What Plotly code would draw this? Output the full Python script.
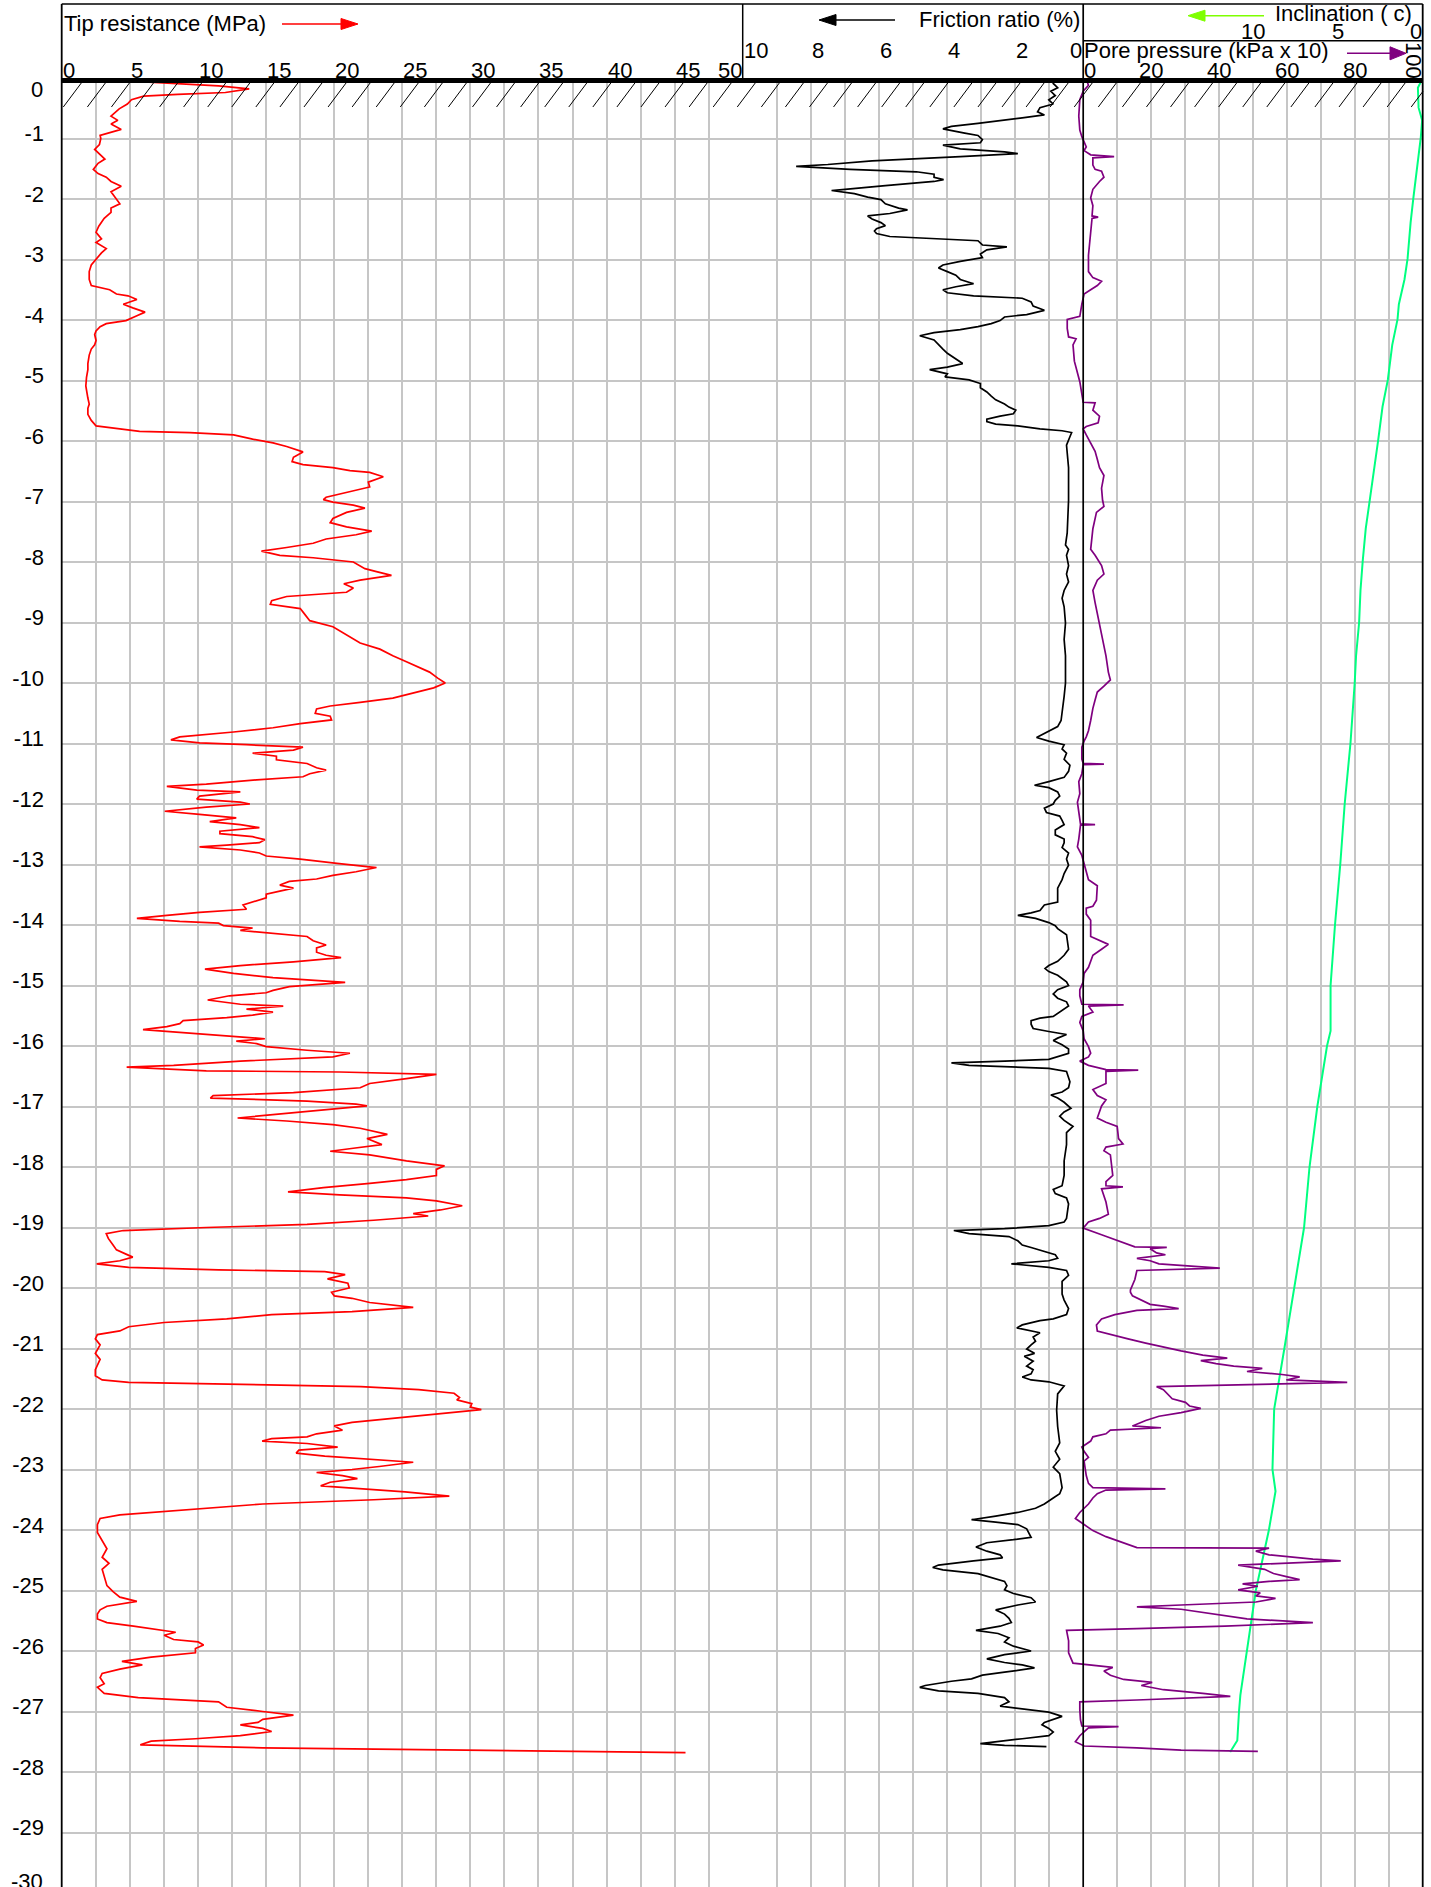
import plotly.graph_objects as go

# ---------------- data (depth in m below ground) ----------------
tip_depth = [0.04,0.08,0.13,0.18,0.24,0.27,0.30,0.36,0.43,0.51,0.63,0.70,0.76,0.85,0.90,0.95,1.00,1.10,1.18,1.27,
 1.34,1.41,1.51,1.58,1.64,1.71,1.79,1.88,1.98,2.08,2.15,2.22,2.32,2.45,2.55,2.66,2.72,2.82,2.89,2.99,
 3.09,3.20,3.33,3.43,3.50,3.57,3.60,3.66,3.74,3.80,3.87,3.93,4.01,4.06,4.11,4.18,4.24,4.34,4.41,4.48,
 4.58,4.72,4.82,4.95,5.09,5.29,5.39,5.46,5.56,5.66,5.75,5.80,5.84,5.86,5.90,5.97,6.03,6.09,6.14,6.18,
 6.27,6.34,6.39,6.44,6.49,6.52,6.59,6.68,6.76,6.84,6.93,6.97,7.01,7.06,7.11,7.18,7.28,7.35,7.42,7.49,
 7.55,7.62,7.69,7.76,7.82,7.89,7.93,8.00,8.06,8.11,8.16,8.22,8.30,8.36,8.43,8.50,8.57,8.64,8.70,8.77,
 8.87,8.97,9.07,9.21,9.34,9.44,9.55,9.65,9.75,9.82,9.92,10.00,
 10.08,10.20,10.25,10.32,10.38,10.43,10.50,10.55,10.61,10.67,10.74,10.81,10.89,10.94,10.99,11.02,11.06,11.11,11.16,11.21,
 11.27,11.33,11.40,11.44,11.50,11.55,11.60,11.67,11.71,11.77,11.80,11.87,11.92,11.97,12.00,12.05,12.12,12.17,12.23,12.29,
 12.34,12.39,12.45,12.49,12.54,12.59,12.64,12.68,12.71,12.76,12.81,12.86,12.91,12.98,13.05,13.12,13.18,13.24,13.28,13.34,
 13.39,13.44,13.49,13.55,13.62,13.67,13.74,13.79,13.84,13.89,13.94,13.97,14.01,14.05,14.09,14.13,14.19,14.26,14.33,14.38,
 14.45,14.50,14.54,14.61,14.67,14.73,14.80,14.87,14.92,14.95,15.02,15.08,15.12,15.17,15.24,15.31,15.34,15.39,15.44,15.49,
 15.53,15.58,15.63,15.68,15.73,15.79,15.83,15.88,15.92,15.96,16.01,16.07,16.12,16.18,16.25,16.32,16.35,16.41,16.43,16.47,
 16.54,16.62,16.69,16.77,16.82,16.86,16.91,16.96,16.99,17.06,17.13,17.19,17.24,17.30,17.36,17.43,17.46,17.53,17.58,17.63,
 17.69,17.74,17.80,17.85,17.90,17.98,18.04,18.14,18.21,18.27,18.34,18.41,18.46,18.51,18.56,18.64,18.71,18.77,18.81,18.88,
 18.95,19.00,19.05,19.10,19.18,19.29,19.37,19.44,19.49,19.55,19.60,19.66,19.70,19.73,19.78,19.85,19.92,20.00,20.07,20.13,
 20.17,20.24,20.32,20.39,20.44,20.51,20.57,20.64,20.71,20.77,20.84,20.94,21.08,21.18,21.35,21.45,21.52,21.56,21.60,21.63,
 21.68,21.74,21.81,21.85,21.91,21.97,22.01,22.09,22.16,22.22,22.28,22.35,22.41,22.46,22.49,22.53,22.57,22.63,22.68,22.73,
 22.78,22.83,22.88,22.95,23.00,23.05,23.10,23.15,23.21,23.27,23.32,23.37,23.44,23.50,23.57,23.64,23.71,23.75,23.81,23.91,
 24.04,24.18,24.31,24.45,24.55,24.65,24.78,24.92,25.02,25.11,25.18,25.26,25.32,25.39,25.47,25.53,25.59,25.66,25.69,25.74,
 25.81,25.85,25.90,25.96,26.03,26.10,26.17,26.23,26.30,26.37,26.44,26.54,26.60,26.70,26.77,26.84,26.93,27.00,27.06,27.13,
 27.18,27.22,27.28,27.33,27.40,27.45,27.49,27.55,27.60,27.68]
tip_qc = [4.0,7.0,11.5,13.75,12.0,8.5,6.0,5.1,4.8,4.2,3.6,4.1,3.6,4.35,3.5,2.8,2.85,2.75,2.4,2.8,
 3.15,2.65,2.3,2.65,3.25,3.6,4.35,3.6,3.9,4.25,3.6,3.6,3.1,2.7,2.5,2.9,2.5,3.25,2.9,2.5,
 2.15,2.0,2.0,2.15,3.5,4.0,4.85,5.5,4.5,5.2,6.1,5.5,4.7,3.25,2.8,2.5,2.4,2.5,2.4,2.15,
 2.0,1.9,1.9,1.8,1.75,1.9,2.0,1.9,1.9,2.15,2.5,4.25,5.7,9.4,12.6,14.0,15.5,16.5,17.2,17.7,
 17.0,16.9,17.7,19.9,21.15,22.6,23.6,22.5,22.6,21.15,19.4,19.2,19.9,21.4,22.25,20.9,19.9,19.7,20.9,22.75,
 21.6,19.4,18.45,16.5,14.65,16.0,18.45,21.4,21.9,22.25,23.1,24.2,21.9,20.7,21.4,20.9,16.5,15.4,15.3,17.5,
 17.85,18.2,19.9,20.9,21.9,23.35,24.3,25.3,26.3,27.0,27.6,28.15,
 27.3,25.1,24.3,21.9,19.7,18.7,18.6,19.7,19.8,17.5,15.5,12.6,8.65,8.0,10.1,13.55,17.7,17.0,14.0,15.75,
 15.75,18.0,18.7,19.4,18.2,17.7,14.3,10.6,7.7,9.9,13.1,10.1,9.9,13.1,13.8,10.6,7.55,10.1,12.8,10.85,
 13.1,14.5,11.6,11.6,14.0,14.9,14.5,12.1,10.1,13.1,14.5,15.0,17.5,20.2,23.1,21.6,19.9,18.7,16.7,16.0,
 17.0,16.0,15.0,15.0,14.0,13.3,13.55,10.1,7.7,5.5,8.65,11.5,11.85,14.0,13.1,15.0,18.0,18.45,19.4,18.7,
 18.7,19.4,20.5,17.0,13.1,10.5,12.6,15.5,19.2,20.8,16.7,15.5,15.0,12.3,10.7,13.1,16.25,13.55,15.5,14.0,
 12.1,8.9,8.65,7.7,5.95,9.6,12.6,14.9,12.8,14.3,15.0,18.0,21.15,19.9,13.1,8.2,4.75,10.6,20.4,27.5,
 25.3,22.6,21.9,17.0,11.1,10.9,18.0,21.6,22.4,19.2,15.5,12.9,16.5,19.9,21.9,23.4,23.9,22.4,22.9,23.5,
 21.4,19.7,22.6,23.85,25.3,28.1,27.5,27.5,25.3,22.6,19.2,16.6,20.4,25.3,27.5,29.4,27.8,25.8,26.9,22.9,
 18.0,10.6,4.5,3.25,3.4,3.75,4.0,4.7,5.2,4.25,2.55,4.9,11.5,19.3,20.8,19.5,21.0,21.1,19.8,20.0,
 21.3,22.6,25.8,21.3,15.4,12.1,7.5,4.9,4.25,2.6,2.45,2.8,2.45,2.8,2.45,2.45,2.95,4.9,14.75,21.95,
 26.2,28.8,29.2,29.0,30.1,30.0,30.8,27.2,23.6,21.3,20.0,20.6,18.7,18.0,15.4,14.7,18.0,20.25,17.4,17.2,
 19.3,22.6,25.8,23.3,21.3,18.7,20.6,21.7,19.7,19.0,21.95,25.2,28.45,22.9,14.75,10.8,7.2,4.25,2.8,2.6,
 2.6,2.95,3.3,2.95,3.45,2.95,3.1,3.3,3.75,4.25,5.5,3.3,2.8,2.6,2.6,3.3,5.25,7.4,8.35,7.5,
 8.2,10.0,10.4,9.8,9.8,6.55,4.4,5.9,4.25,2.95,2.8,3.1,2.6,3.1,5.6,11.5,12.1,14.75,17.0,14.75,
 14.4,13.1,14.75,15.4,13.1,9.8,6.55,5.75,14.75,45.8]

fr_depth = [0.02,0.09,0.16,0.22,0.29,0.36,0.43,0.49,0.56,0.61,0.66,0.71,0.75,0.80,0.84,0.91,0.95,1.02,1.07,1.11,
 1.17,1.22,1.25,1.30,1.37,1.43,1.46,1.51,1.55,1.59,1.64,1.68,1.71,1.78,1.83,1.86,1.91,1.97,2.01,2.08,
 2.15,2.18,2.24,2.28,2.33,2.39,2.44,2.49,2.53,2.57,2.62,2.66,2.69,2.76,2.79,2.84,2.91,2.97,3.03,3.09,
 3.14,3.20,3.26,3.33,3.40,3.45,3.50,3.55,3.60,3.64,3.70,3.77,3.84,3.91,3.95,4.01,4.06,4.11,4.16,4.21,
 4.26,4.33,4.41,4.48,4.55,4.65,4.72,4.78,4.82,4.89,4.94,4.99,5.05,5.12,5.19,5.26,5.32,5.39,5.44,5.49,
 5.55,5.59,5.64,5.68,5.72,5.75,5.80,5.83,5.86,5.93,6.07,6.44,6.98,7.52,7.72,7.79,7.89,8.06,8.20,8.33,
 8.47,8.60,8.74,9.01,9.28,9.55,10.00,10.22,10.49,10.62,10.72,10.79,10.86,10.90,10.96,11.02,11.09,11.16,11.26,11.36,
 11.46,11.56,11.63,11.69,11.73,11.80,11.87,11.94,12.00,12.07,12.14,12.20,12.27,12.34,12.43,12.51,12.58,12.64,12.72,12.81,
 12.91,13.01,13.15,13.25,13.39,13.62,13.67,13.76,13.80,13.84,13.89,13.96,14.01,14.06,14.16,14.40,14.50,14.60,14.67,14.72,
 14.77,14.83,14.94,15.00,15.07,15.14,15.21,15.27,15.34,15.44,15.51,15.54,15.58,15.64,15.71,15.76,15.81,15.87,15.91,15.98,
 16.05,16.12,16.18,16.22,16.25,16.28,16.32,16.37,16.42,16.59,16.69,16.76,16.81,16.86,16.93,17.03,17.09,17.16,17.23,17.33,
 17.43,17.63,17.90,18.14,18.31,18.37,18.44,18.51,18.61,18.85,18.91,18.97,19.02,19.05,19.10,19.15,19.22,19.29,19.33,19.39,
 19.45,19.51,19.55,19.60,19.66,19.71,19.79,19.89,20.00,20.10,20.20,20.34,20.44,20.51,20.54,20.61,20.66,20.74,20.81,20.88,
 20.94,21.01,21.08,21.13,21.21,21.29,21.35,21.42,21.47,21.52,21.55,21.62,21.75,22.02,22.29,22.56,22.70,22.83,22.96,23.07,
 23.30,23.40,23.47,23.57,23.64,23.71,23.77,23.83,23.87,23.91,23.98,24.04,24.12,24.16,24.21,24.28,24.35,24.41,24.46,24.51,
 24.58,24.62,24.66,24.72,24.78,24.85,24.92,24.99,25.05,25.12,25.19,25.24,25.32,25.39,25.46,25.53,25.59,25.66,25.71,25.78,
 25.85,25.92,26.00,26.06,26.13,26.19,26.23,26.28,26.35,26.40,26.46,26.50,26.57,26.60,26.66,26.70,26.77,26.84,26.91,26.95,
 27.01,27.08,27.13,27.18,27.22,27.28,27.34,27.40,27.45,27.49,27.53,27.56,27.58]
fr_ratio = [0.82,0.88,0.75,0.95,0.82,1.01,0.88,1.27,1.34,1.14,1.79,2.44,3.09,3.87,4.12,3.48,3.09,2.96,3.02,4.12,
 3.61,2.31,1.92,3.61,6.2,7.5,8.43,6.85,4.9,4.38,4.38,4.1,4.38,5.81,6.85,7.39,6.72,6.33,5.94,5.81,
 5.42,5.16,5.68,6.33,6.2,5.94,5.81,6.07,6.13,6.07,5.68,4.25,3.09,2.96,2.24,2.83,3.02,2.96,3.61,4.12,
 4.25,3.99,3.74,3.61,3.22,3.74,4.12,3.99,3.22,1.79,1.53,1.47,1.14,1.66,2.31,2.44,2.70,3.09,3.61,4.38,
 4.80,4.38,4.25,4.12,3.99,3.74,3.54,3.99,4.51,3.99,4.06,3.35,3.02,3.02,2.83,2.70,2.57,2.31,2.18,1.98,
 2.05,2.44,2.83,2.83,2.57,1.92,1.27,0.62,0.34,0.39,0.49,0.43,0.43,0.47,0.52,0.43,0.49,0.43,0.49,0.43,
 0.56,0.62,0.56,0.52,0.56,0.52,0.52,0.56,0.62,0.65,0.75,1.01,1.27,1.37,1.01,0.56,0.62,0.49,0.56,0.39,
 0.43,0.56,1.01,1.43,1.01,0.75,0.69,0.82,0.88,1.14,1.08,0.69,0.62,0.56,0.82,0.82,0.56,0.56,0.62,0.43,
 0.49,0.43,0.56,0.62,0.75,0.75,1.14,1.27,1.53,1.92,1.40,1.01,0.82,0.75,0.49,0.43,0.56,0.75,1.01,1.12,
 1.01,0.75,0.49,0.43,0.75,0.88,0.75,0.49,0.43,0.69,0.88,1.27,1.53,1.53,1.47,1.01,0.49,0.75,0.88,0.62,
 0.43,0.43,0.75,1.01,2.31,3.87,3.35,1.01,0.49,0.39,0.43,0.62,0.95,0.75,0.56,0.36,0.56,0.69,0.56,0.30,
 0.49,0.49,0.56,0.56,0.62,0.88,0.82,0.49,0.43,0.49,0.56,1.01,2.31,3.80,3.35,2.18,1.92,1.79,1.53,1.14,
 0.82,0.75,1.01,2.11,1.01,0.49,0.43,0.62,0.62,0.62,0.56,0.43,0.49,0.88,1.27,1.79,1.95,1.27,1.47,1.40,
 1.53,1.66,1.43,1.73,1.47,1.66,1.47,1.53,1.79,1.53,1.01,0.56,0.75,0.78,0.75,0.69,0.82,0.69,0.88,0.69,
 0.62,0.69,0.88,1.14,1.40,1.92,2.57,3.28,2.57,1.92,1.66,1.60,1.53,2.05,2.83,3.15,2.83,2.44,2.37,3.22,
 4.25,4.42,4.12,3.09,2.70,2.31,2.24,2.31,2.05,1.53,1.40,1.92,2.57,2.31,2.18,2.11,2.44,3.15,2.50,2.18,
 2.31,2.05,1.53,2.31,2.83,2.31,1.79,1.43,2.31,2.96,3.28,3.87,4.64,4.80,4.25,3.09,2.31,2.18,2.44,1.79,
 1.01,0.62,0.88,1.14,1.21,1.01,0.88,1.01,1.79,2.44,3.02,2.31,1.08]

pp_depth = [0.02,0.12,0.22,0.36,0.63,0.86,0.97,1.07,1.14,1.20,1.27,1.30,1.32,1.44,1.51,1.54,1.64,1.71,1.84,1.98,
 2.11,2.28,2.30,2.32,2.52,2.93,3.20,3.30,3.36,3.43,3.50,3.57,3.74,3.94,3.99,4.14,4.28,4.31,4.41,4.68,
 5.02,5.22,5.36,5.37,5.49,5.59,5.70,5.76,5.80,5.90,6.03,6.17,6.30,6.44,6.57,6.78,6.98,7.08,7.18,7.45,
 7.79,7.89,8.06,8.20,8.30,8.47,8.67,9.01,9.28,9.55,9.82,9.95,10.05,10.15,10.28,10.42,10.62,10.79,10.89,10.96,
 11.06,11.26,11.33,11.34,11.35,11.50,11.63,11.83,11.97,12.24,12.33,12.34,12.35,12.58,12.71,12.85,12.98,13.12,13.25,13.35,
 13.59,13.69,13.72,13.82,13.92,14.19,14.32,14.40,14.50,14.70,14.80,14.94,15.07,15.17,15.31,15.32,15.34,15.44,15.51,15.61,
 15.75,15.88,16.01,16.12,16.18,16.25,16.32,16.39,16.40,16.42,16.62,16.72,16.82,16.89,16.99,17.19,17.26,17.33,17.53,17.62,
 17.67,17.73,17.80,18.14,18.24,18.31,18.33,18.36,18.58,18.78,18.85,18.91,19.01,19.12,19.22,19.29,19.32,19.33,19.35,19.42,
 19.45,19.51,19.55,19.60,19.67,19.71,19.86,20.03,20.07,20.13,20.20,20.27,20.30,20.34,20.37,20.44,20.51,20.61,20.71,20.77,
 20.84,20.91,20.98,21.04,21.11,21.16,21.20,21.25,21.29,21.33,21.38,21.43,21.47,21.52,21.56,21.60,21.63,21.68,21.75,21.83,
 21.89,21.95,21.99,22.06,22.12,22.19,22.28,22.31,22.35,22.41,22.46,22.53,22.63,22.70,22.80,22.86,23.10,23.23,23.30,23.32,
 23.34,23.40,23.47,23.57,23.71,23.81,23.91,24.01,24.11,24.21,24.29,24.30,24.35,24.41,24.48,24.51,24.55,24.58,24.65,24.72,
 24.77,24.82,24.85,24.89,24.93,24.99,25.04,25.09,25.13,25.19,25.24,25.27,25.31,25.36,25.42,25.47,25.53,25.59,25.63,25.66,
 25.83,26.03,26.20,26.27,26.33,26.40,26.47,26.52,26.57,26.64,26.70,26.75,26.81,26.84,26.97,27.14,27.24,27.25,27.27,27.40,
 27.50,27.57,27.60,27.64,27.66]
pp_value = [0.9,1.55,0.0,-1.0,-1.3,-1.0,-0.4,0.26,0.9,0.26,2.2,9.1,2.85,2.85,3.5,5.4,6.1,4.8,2.85,2.2,
 2.85,2.6,4.4,2.6,2.2,1.55,1.55,2.85,5.4,4.15,2.2,0.26,-0.4,-1.0,-4.7,-4.7,-4.3,-2.1,-3.0,-2.6,
 -1.0,-0.4,0.0,3.5,2.85,4.8,4.4,0.9,0.0,0.9,2.2,3.5,4.15,4.8,6.1,5.4,5.7,6.1,3.9,2.85,
 2.2,3.5,5.4,6.1,4.15,2.85,3.5,4.8,5.7,6.7,7.4,8.0,6.1,4.15,3.5,2.85,2.2,1.55,0.9,0.26,
 -0.4,-0.4,0.0,6.1,0.0,-0.4,-1.3,-1.0,-1.7,-1.0,-0.8,3.5,-0.8,-1.3,-1.7,-0.4,0.26,0.9,1.55,4.15,
 3.9,2.85,0.9,0.9,2.2,2.2,7.4,5.4,2.85,1.55,0.26,0.0,-1.0,-1.0,-0.4,11.9,1.55,2.85,-0.4,-1.0,
 0.0,0.26,1.55,2.2,1.55,-1.0,1.55,6.7,16.2,6.7,6.7,2.85,4.15,6.7,5.4,4.15,6.7,10.0,10.4,11.7,
 6.7,6.1,8.0,8.7,6.7,6.7,11.7,5.4,6.7,7.4,4.8,1.55,0.0,5.4,10.6,13.9,15.2,24.6,19.7,21.6,
 24.2,15.8,19.7,22.3,40.2,15.8,15.2,13.9,13.9,14.5,17.1,19.7,23.6,28.1,15.8,9.3,5.4,3.9,4.15,8.0,
 13.2,18.4,23.6,28.8,35.2,42.4,34.6,39.1,44.3,52.7,48.2,58.5,63.7,59.8,77.7,41.7,21.6,23.6,24.9,26.2,
 30.1,31.3,34.6,28.8,22.3,18.4,14.5,22.9,8.0,6.7,2.85,2.2,-0.4,0.26,1.55,0.26,0.9,1.55,2.85,24.2,
 6.7,4.15,2.85,1.55,-1.0,-2.3,0.26,2.85,6.7,11.9,15.8,54.7,50.8,54.7,67.6,75.8,58.5,45.6,53.4,56.0,
 59.8,63.7,54.7,46.9,51.4,45.6,52.1,50.8,56.6,50.8,28.8,15.8,28.8,35.2,41.7,48.2,67.6,41.7,15.8,-4.9,
 -4.3,-4.3,-3.0,8.7,6.1,8.0,11.9,20.3,17.1,23.6,35.2,43.3,15.8,-1.0,-1.0,-0.8,-0.4,10.4,1.55,-1.0,
 -2.3,0.26,15.8,28.8,51.4]

inc_depth = [0.02,0.16,0.49,0.70,0.98,1.37,1.71,1.99,2.39,2.79,2.99,3.33,3.74,3.99,4.41,4.99,5.43,5.99,6.43,6.99,
 7.45,7.99,8.47,9.00,9.55,10.00,11.00,12.00,13.00,14.00,15.00,15.75,16.00,17.00,18.00,19.00,20.00,21.00,22.00,23.00,
 23.36,24.00,25.00,26.00,26.73,27.00,27.48,27.67]
inc_value = [0.05,0.30,0.26,0.05,0.13,0.31,0.47,0.57,0.73,0.83,0.91,1.09,1.42,1.50,1.81,2.07,2.38,2.64,2.85,3.16,
 3.37,3.55,3.68,3.76,3.94,4.02,4.27,4.61,4.87,5.18,5.44,5.44,5.65,6.22,6.68,7.00,7.56,8.16,8.76,8.86,
 8.68,9.07,9.84,10.36,10.75,10.83,10.93,11.35]

depth_ticks = list(range(-1, -30, -1))
tip_ticks = [0, 5, 10, 15, 20, 25, 30, 35, 40, 45, 50]
fr_ticks = [10, 8, 6, 4, 2, 0]
pp_ticks = [0, 20, 40, 60, 80, 100]
inc_ticks = [10, 5, 0]

# ---------------- geometry (pixels) ----------------
W, H = 1431, 1887
ML, MR, MT, MB = 62, 8, 78, 0
PW = W - ML - MR
PH = H - MT - MB
PX_PER_M = 60.5
X_LEFT, X_TIP, X_FR, X_RIGHT = 61.7, 742.7, 1083.2, 1423.0


def px(x):
    return (x - ML) / PW


def py(y):
    return (H - MB - y) / PH


FONT = "Liberation Sans, Arial, sans-serif"
GRID = "#c6c6c6"
FS = 22
PP_MIN = -(X_FR - X_TIP) / (X_RIGHT - X_FR) * 100.0
Y_RANGE = [-PH / PX_PER_M, 0]

fig = go.Figure()
fig.add_trace(go.Scatter(x=tip_qc, y=[-d for d in tip_depth], xaxis="x", yaxis="y", mode="lines",
                         line=dict(color="#ff0000", width=1.7), name="Tip resistance", showlegend=False))
fig.add_trace(go.Scatter(x=fr_ratio, y=[-d for d in fr_depth], xaxis="x2", yaxis="y", mode="lines",
                         line=dict(color="#000000", width=1.7), name="Friction ratio", showlegend=False))
fig.add_trace(go.Scatter(x=inc_value, y=[-d for d in inc_depth], xaxis="x4", yaxis="y", mode="lines",
                         line=dict(color="#00ff80", width=2), name="Inclination", showlegend=False))
fig.add_trace(go.Scatter(x=pp_value, y=[-d for d in pp_depth], xaxis="x5", yaxis="y2", mode="lines",
                         line=dict(color="#800080", width=1.7), name="Pore pressure", showlegend=False))

xcommon = dict(showticklabels=False, ticks="", showgrid=True, gridcolor=GRID, gridwidth=1.5,
               zeroline=False, showline=False, tickmode="linear", anchor="y", side="top")
hidden = dict(showgrid=False, showticklabels=False, ticks="", zeroline=False, showline=False, side="top")
fig.update_layout(
    width=W, height=H,
    margin=dict(l=ML, r=MR, t=MT, b=MB, pad=0),
    paper_bgcolor="white", plot_bgcolor="rgba(0,0,0,0)",
    font=dict(family=FONT, size=FS, color="black"),
    xaxis=dict(domain=[0, px(X_TIP)], range=[0, 50], tick0=0, dtick=2.5, **xcommon),
    xaxis2=dict(domain=[px(X_TIP), px(X_FR)], range=[10, 0], tick0=0, dtick=1, **xcommon),
    xaxis3=dict(domain=[px(X_FR), 1], range=[0, 100], tick0=0, dtick=10, **xcommon),
    xaxis4=dict(overlaying="x3", range=[20, 0], anchor="y", **hidden),
    xaxis5=dict(domain=[px(X_TIP), 1], range=[PP_MIN, 100], anchor="y2", **hidden),
    yaxis=dict(range=Y_RANGE, tickmode="array", tickvals=depth_ticks,
               ticktext=[str(v) for v in depth_ticks], showgrid=True, gridcolor=GRID, gridwidth=1.5,
               zeroline=False, showline=False, ticks="", ticklabelstandoff=17, ticklabelshift=-5,
               tickfont=dict(family=FONT, size=FS, color="black")),
    yaxis2=dict(range=Y_RANGE, overlaying="y", anchor="x5", showgrid=False, showticklabels=False,
                ticks="", zeroline=False, showline=False),
)

shapes = []


def line(x0, y0, x1, y1, color="black", width=1.5):
    shapes.append(dict(type="line", xref="paper", yref="paper", x0=px(x0), y0=py(y0), x1=px(x1), y1=py(y1),
                       line=dict(color=color, width=width), layer="above"))


def arrow(x_tail, x_tip, y, color, head_len=17, head_half=5.5):
    d = 1 if x_tip > x_tail else -1
    base = x_tip - d * head_len
    line(x_tail, y, base + d * 1, y, color=color, width=1.6)
    path = "M {} {} L {} {} L {} {} Z".format(px(x_tip), py(y), px(base), py(y - head_half), px(base), py(y + head_half))
    shapes.append(dict(type="path", xref="paper", yref="paper", path=path,
                       fillcolor=color, line=dict(color=color, width=1), layer="above"))


# frame
line(X_LEFT, 4, X_RIGHT - 0.3, 4)
line(X_LEFT, 4, X_LEFT, H + 2, width=1.8)
line(X_RIGHT - 0.3, 4, X_RIGHT - 0.3, H + 2, width=1.8)
line(X_TIP, 4, X_TIP, 79)
line(X_FR, 4, X_FR, H + 2, width=1.7)
line(X_FR, 40.7, X_RIGHT, 40.7)

# hatch under ground line
hp = []
x0 = 63.3
while x0 < X_RIGHT - 2:
    x1 = min(x0 + 18, X_RIGHT)
    y1 = 107 - (x1 - x0) * 24 / 18
    hp.append("M {:.5f} {:.5f} L {:.5f} {:.5f}".format(px(x0), py(107), px(x1), py(y1)))
    x0 += 24.07
shapes.append(dict(type="path", xref="paper", yref="paper", path=" ".join(hp),
                   line=dict(color="black", width=1), layer="above"))
# ground line
line(X_LEFT, 80.5, X_RIGHT, 80.5, width=5)

# header arrows
arrow(282, 358, 24, "#ff0000")
arrow(895, 819, 20, "#000000")
arrow(1264, 1188, 15.7, "#7fff00")
arrow(1347, 1406, 53.3, "#800080", head_len=16, head_half=6.5)

fig.update_layout(shapes=shapes)

ann = []


def txt(text, x, y, xanchor="left", xref="paper", yref="paper", angle=0, yshift=0):
    ann.append(dict(text=text, x=x, y=y, xref=xref, yref=yref, xanchor=xanchor, yanchor="middle",
                    showarrow=False, textangle=angle, yshift=yshift, borderpad=0,
                    font=dict(family=FONT, size=FS, color="black")))


txt("Tip resistance (MPa)", px(63), py(24))
txt("Friction ratio (%)", px(1081), py(20), xanchor="right")
txt("Inclination ( c)", px(1413), py(14), xanchor="right")
txt("Pore pressure (kPa x 10)", px(1083), py(50))

for v in tip_ticks:
    txt(str(v), v, py(70), xanchor="right" if v == 50 else "left", xref="x")
for v in fr_ticks:
    txt(str(v), v, py(51), xanchor="right" if v == 0 else "left", xref="x2")
for v in pp_ticks:
    if v == 100:
        txt(str(v), px(1414), py(60), xanchor="center", angle=90)
    else:
        txt(str(v), v, py(70), xanchor="left" if v == 0 else "center", xref="x3")
for v in inc_ticks:
    txt(str(v), v, py(32), xanchor="right" if v == 0 else "center", xref="x4")

txt("0", px(44), py(90), xanchor="right")
txt("-30", px(44), py(1881), xanchor="right")

fig.update_layout(annotations=ann)

fig.write_html("out.html", post_script="document.body.style.margin='0';document.body.style.overflow='hidden';",
               config={"displayModeBar": False})
